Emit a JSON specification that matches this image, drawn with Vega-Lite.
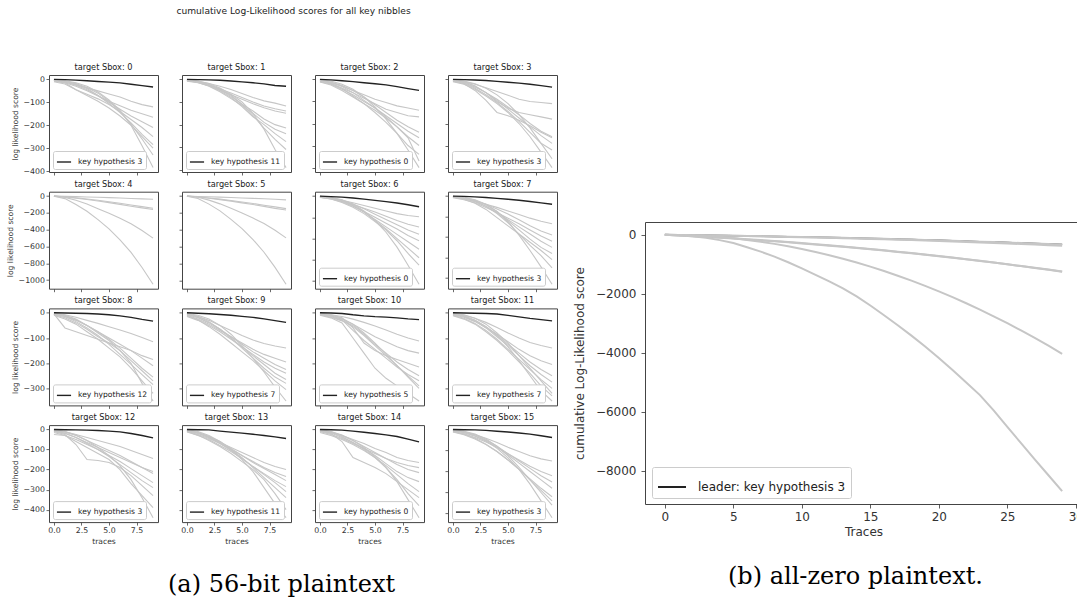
{
"$schema":"https://vega.github.io/schema/vega-lite/v6.json",
"padding":{"left":5,"top":7,"right":0,"bottom":0},
"config":{
"font":"DejaVu Sans",
"view":{"stroke":"#444444","strokeWidth":1},
"axis":{"labelFont":"DejaVu Sans","labelFontSize":7.8,"labelColor":"#333333","tickColor":"#444444","tickSize":3,"tickWidth":0.8,"labelPadding":1.5,"domain":false,"grid":false,"labelFlush":false,"labelOverlap":false,"titleFont":"DejaVu Sans","titleFontSize":7.6,"titleFontWeight":"normal","titleColor":"#333333","titlePadding":3},
"axisY":{"titlePadding":4},
"title":{"font":"DejaVu Sans","fontSize":8.2,"fontWeight":"normal","color":"#222222","offset":3},
"legend":{"orient":"bottom-left","offset":3.5,"padding":3,"fillColor":"white","strokeColor":"#cccccc","cornerRadius":2,"symbolType":"stroke","symbolSize":200,"symbolStrokeWidth":1.4,"labelFont":"DejaVu Sans","labelFontSize":7.6,"labelColor":"#222222","labelOffset":6}
},
"datasets":{
"p0":[{"h":3,"t":0,"v":0},{"h":3,"t":1,"v":-1},{"h":3,"t":2,"v":-3},{"h":3,"t":3,"v":-6},{"h":3,"t":4,"v":-9},{"h":3,"t":5,"v":-12},{"h":3,"t":6,"v":-15},{"h":3,"t":7,"v":-21},{"h":3,"t":8,"v":-27},{"h":3,"t":9,"v":-33},
{"h":0,"t":0,"v":-5},{"h":0,"t":1,"v":-12},{"h":0,"t":2,"v":-24},{"h":0,"t":3,"v":-37},{"h":0,"t":4,"v":-50},{"h":0,"t":5,"v":-64},{"h":0,"t":6,"v":-77},{"h":0,"t":7,"v":-95},{"h":0,"t":8,"v":-110},{"h":0,"t":9,"v":-120},
{"h":1,"t":0,"v":-8},{"h":1,"t":1,"v":-15},{"h":1,"t":2,"v":-30},{"h":1,"t":3,"v":-50},{"h":1,"t":4,"v":-72},{"h":1,"t":5,"v":-95},{"h":1,"t":6,"v":-115},{"h":1,"t":7,"v":-135},{"h":1,"t":8,"v":-150},{"h":1,"t":9,"v":-165},
{"h":2,"t":0,"v":-3},{"h":2,"t":1,"v":-10},{"h":2,"t":2,"v":-25},{"h":2,"t":3,"v":-45},{"h":2,"t":4,"v":-70},{"h":2,"t":5,"v":-100},{"h":2,"t":6,"v":-130},{"h":2,"t":7,"v":-160},{"h":2,"t":8,"v":-185},{"h":2,"t":9,"v":-210},
{"h":4,"t":0,"v":-10},{"h":4,"t":1,"v":-20},{"h":4,"t":2,"v":-45},{"h":4,"t":3,"v":-65},{"h":4,"t":4,"v":-85},{"h":4,"t":5,"v":-110},{"h":4,"t":6,"v":-140},{"h":4,"t":7,"v":-175},{"h":4,"t":8,"v":-210},{"h":4,"t":9,"v":-250},
{"h":5,"t":0,"v":-2},{"h":5,"t":1,"v":-8},{"h":5,"t":2,"v":-20},{"h":5,"t":3,"v":-40},{"h":5,"t":4,"v":-70},{"h":5,"t":5,"v":-105},{"h":5,"t":6,"v":-145},{"h":5,"t":7,"v":-190},{"h":5,"t":8,"v":-240},{"h":5,"t":9,"v":-285},
{"h":6,"t":0,"v":-5},{"h":6,"t":1,"v":-15},{"h":6,"t":2,"v":-45},{"h":6,"t":3,"v":-70},{"h":6,"t":4,"v":-95},{"h":6,"t":5,"v":-125},{"h":6,"t":6,"v":-160},{"h":6,"t":7,"v":-200},{"h":6,"t":8,"v":-250},{"h":6,"t":9,"v":-300},
{"h":7,"t":0,"v":-3},{"h":7,"t":1,"v":-8},{"h":7,"t":2,"v":-18},{"h":7,"t":3,"v":-35},{"h":7,"t":4,"v":-60},{"h":7,"t":5,"v":-95},{"h":7,"t":6,"v":-140},{"h":7,"t":7,"v":-195},{"h":7,"t":8,"v":-260},{"h":7,"t":9,"v":-330},
{"h":8,"t":0,"v":-2},{"h":8,"t":1,"v":-6},{"h":8,"t":2,"v":-15},{"h":8,"t":3,"v":-30},{"h":8,"t":4,"v":-55},{"h":8,"t":5,"v":-90},{"h":8,"t":6,"v":-135},{"h":8,"t":7,"v":-200},{"h":8,"t":8,"v":-290},{"h":8,"t":9,"v":-385}],
"p1":[{"h":11,"t":0,"v":0},{"h":11,"t":1,"v":-1},{"h":11,"t":2,"v":-2},{"h":11,"t":3,"v":-4},{"h":11,"t":4,"v":-7},{"h":11,"t":5,"v":-11},{"h":11,"t":6,"v":-15},{"h":11,"t":7,"v":-20},{"h":11,"t":8,"v":-27},{"h":11,"t":9,"v":-30},
{"h":0,"t":0,"v":-3},{"h":0,"t":1,"v":-8},{"h":0,"t":2,"v":-18},{"h":0,"t":3,"v":-30},{"h":0,"t":4,"v":-45},{"h":0,"t":5,"v":-62},{"h":0,"t":6,"v":-80},{"h":0,"t":7,"v":-95},{"h":0,"t":8,"v":-105},{"h":0,"t":9,"v":-118},
{"h":1,"t":0,"v":-5},{"h":1,"t":1,"v":-12},{"h":1,"t":2,"v":-25},{"h":1,"t":3,"v":-42},{"h":1,"t":4,"v":-60},{"h":1,"t":5,"v":-80},{"h":1,"t":6,"v":-100},{"h":1,"t":7,"v":-118},{"h":1,"t":8,"v":-130},{"h":1,"t":9,"v":-140},
{"h":2,"t":0,"v":-8},{"h":2,"t":1,"v":-15},{"h":2,"t":2,"v":-28},{"h":2,"t":3,"v":-48},{"h":2,"t":4,"v":-68},{"h":2,"t":5,"v":-88},{"h":2,"t":6,"v":-108},{"h":2,"t":7,"v":-125},{"h":2,"t":8,"v":-140},{"h":2,"t":9,"v":-150},
{"h":3,"t":0,"v":-2},{"h":3,"t":1,"v":-10},{"h":3,"t":2,"v":-25},{"h":3,"t":3,"v":-45},{"h":3,"t":4,"v":-75},{"h":3,"t":5,"v":-110},{"h":3,"t":6,"v":-140},{"h":3,"t":7,"v":-175},{"h":3,"t":8,"v":-200},{"h":3,"t":9,"v":-215},
{"h":4,"t":0,"v":-6},{"h":4,"t":1,"v":-14},{"h":4,"t":2,"v":-30},{"h":4,"t":3,"v":-55},{"h":4,"t":4,"v":-85},{"h":4,"t":5,"v":-115},{"h":4,"t":6,"v":-150},{"h":4,"t":7,"v":-190},{"h":4,"t":8,"v":-220},{"h":4,"t":9,"v":-240},
{"h":5,"t":0,"v":-4},{"h":5,"t":1,"v":-12},{"h":5,"t":2,"v":-28},{"h":5,"t":3,"v":-50},{"h":5,"t":4,"v":-80},{"h":5,"t":5,"v":-120},{"h":5,"t":6,"v":-165},{"h":5,"t":7,"v":-200},{"h":5,"t":8,"v":-240},{"h":5,"t":9,"v":-275},
{"h":6,"t":0,"v":-3},{"h":6,"t":1,"v":-9},{"h":6,"t":2,"v":-22},{"h":6,"t":3,"v":-42},{"h":6,"t":4,"v":-70},{"h":6,"t":5,"v":-110},{"h":6,"t":6,"v":-160},{"h":6,"t":7,"v":-215},{"h":6,"t":8,"v":-265},{"h":6,"t":9,"v":-310},
{"h":7,"t":0,"v":-2},{"h":7,"t":1,"v":-7},{"h":7,"t":2,"v":-18},{"h":7,"t":3,"v":-38},{"h":7,"t":4,"v":-65},{"h":7,"t":5,"v":-100},{"h":7,"t":6,"v":-150},{"h":7,"t":7,"v":-220},{"h":7,"t":8,"v":-310},{"h":7,"t":9,"v":-390}],
"p2":[{"h":0,"t":0,"v":0},{"h":0,"t":1,"v":-2},{"h":0,"t":2,"v":-6},{"h":0,"t":3,"v":-10},{"h":0,"t":4,"v":-15},{"h":0,"t":5,"v":-20},{"h":0,"t":6,"v":-25},{"h":0,"t":7,"v":-33},{"h":0,"t":8,"v":-42},{"h":0,"t":9,"v":-50},
{"h":1,"t":0,"v":-5},{"h":1,"t":1,"v":-15},{"h":1,"t":2,"v":-30},{"h":1,"t":3,"v":-50},{"h":1,"t":4,"v":-70},{"h":1,"t":5,"v":-90},{"h":1,"t":6,"v":-105},{"h":1,"t":7,"v":-120},{"h":1,"t":8,"v":-130},{"h":1,"t":9,"v":-140},
{"h":2,"t":0,"v":-8},{"h":2,"t":1,"v":-20},{"h":2,"t":2,"v":-40},{"h":2,"t":3,"v":-60},{"h":2,"t":4,"v":-85},{"h":2,"t":5,"v":-110},{"h":2,"t":6,"v":-135},{"h":2,"t":7,"v":-150},{"h":2,"t":8,"v":-165},{"h":2,"t":9,"v":-170},
{"h":3,"t":0,"v":-3},{"h":3,"t":1,"v":-12},{"h":3,"t":2,"v":-28},{"h":3,"t":3,"v":-50},{"h":3,"t":4,"v":-80},{"h":3,"t":5,"v":-115},{"h":3,"t":6,"v":-150},{"h":3,"t":7,"v":-185},{"h":3,"t":8,"v":-215},{"h":3,"t":9,"v":-240},
{"h":4,"t":0,"v":-10},{"h":4,"t":1,"v":-22},{"h":4,"t":2,"v":-45},{"h":4,"t":3,"v":-70},{"h":4,"t":4,"v":-100},{"h":4,"t":5,"v":-130},{"h":4,"t":6,"v":-165},{"h":4,"t":7,"v":-200},{"h":4,"t":8,"v":-235},{"h":4,"t":9,"v":-265},
{"h":5,"t":0,"v":-4},{"h":5,"t":1,"v":-14},{"h":5,"t":2,"v":-32},{"h":5,"t":3,"v":-60},{"h":5,"t":4,"v":-95},{"h":5,"t":5,"v":-130},{"h":5,"t":6,"v":-170},{"h":5,"t":7,"v":-215},{"h":5,"t":8,"v":-260},{"h":5,"t":9,"v":-300},
{"h":6,"t":0,"v":-6},{"h":6,"t":1,"v":-18},{"h":6,"t":2,"v":-40},{"h":6,"t":3,"v":-75},{"h":6,"t":4,"v":-110},{"h":6,"t":5,"v":-150},{"h":6,"t":6,"v":-195},{"h":6,"t":7,"v":-245},{"h":6,"t":8,"v":-300},{"h":6,"t":9,"v":-340},
{"h":7,"t":0,"v":-2},{"h":7,"t":1,"v":-8},{"h":7,"t":2,"v":-22},{"h":7,"t":3,"v":-45},{"h":7,"t":4,"v":-80},{"h":7,"t":5,"v":-125},{"h":7,"t":6,"v":-180},{"h":7,"t":7,"v":-245},{"h":7,"t":8,"v":-320},{"h":7,"t":9,"v":-400},
{"h":8,"t":0,"v":-12},{"h":8,"t":1,"v":-25},{"h":8,"t":2,"v":-50},{"h":8,"t":3,"v":-80},{"h":8,"t":4,"v":-110},{"h":8,"t":5,"v":-140},{"h":8,"t":6,"v":-175},{"h":8,"t":7,"v":-215},{"h":8,"t":8,"v":-265},{"h":8,"t":9,"v":-370}],
"p3":[{"h":3,"t":0,"v":0},{"h":3,"t":1,"v":-1},{"h":3,"t":2,"v":-3},{"h":3,"t":3,"v":-5},{"h":3,"t":4,"v":-9},{"h":3,"t":5,"v":-13},{"h":3,"t":6,"v":-17},{"h":3,"t":7,"v":-22},{"h":3,"t":8,"v":-28},{"h":3,"t":9,"v":-35},
{"h":0,"t":0,"v":-3},{"h":0,"t":1,"v":-10},{"h":0,"t":2,"v":-22},{"h":0,"t":3,"v":-38},{"h":0,"t":4,"v":-55},{"h":0,"t":5,"v":-72},{"h":0,"t":6,"v":-90},{"h":0,"t":7,"v":-100},{"h":0,"t":8,"v":-105},{"h":0,"t":9,"v":-110},
{"h":1,"t":0,"v":-5},{"h":1,"t":1,"v":-12},{"h":1,"t":2,"v":-30},{"h":1,"t":3,"v":-60},{"h":1,"t":4,"v":-100},{"h":1,"t":5,"v":-130},{"h":1,"t":6,"v":-150},{"h":1,"t":7,"v":-160},{"h":1,"t":8,"v":-170},{"h":1,"t":9,"v":-180},
{"h":2,"t":0,"v":-8},{"h":2,"t":1,"v":-20},{"h":2,"t":2,"v":-50},{"h":2,"t":3,"v":-95},{"h":2,"t":4,"v":-150},{"h":2,"t":5,"v":-165},{"h":2,"t":6,"v":-185},{"h":2,"t":7,"v":-210},{"h":2,"t":8,"v":-240},{"h":2,"t":9,"v":-265},
{"h":4,"t":0,"v":-4},{"h":4,"t":1,"v":-15},{"h":4,"t":2,"v":-35},{"h":4,"t":3,"v":-60},{"h":4,"t":4,"v":-90},{"h":4,"t":5,"v":-125},{"h":4,"t":6,"v":-160},{"h":4,"t":7,"v":-200},{"h":4,"t":8,"v":-235},{"h":4,"t":9,"v":-260},
{"h":5,"t":0,"v":-2},{"h":5,"t":1,"v":-10},{"h":5,"t":2,"v":-30},{"h":5,"t":3,"v":-60},{"h":5,"t":4,"v":-95},{"h":5,"t":5,"v":-135},{"h":5,"t":6,"v":-175},{"h":5,"t":7,"v":-215},{"h":5,"t":8,"v":-255},{"h":5,"t":9,"v":-290},
{"h":6,"t":0,"v":-6},{"h":6,"t":1,"v":-18},{"h":6,"t":2,"v":-40},{"h":6,"t":3,"v":-70},{"h":6,"t":4,"v":-105},{"h":6,"t":5,"v":-145},{"h":6,"t":6,"v":-190},{"h":6,"t":7,"v":-240},{"h":6,"t":8,"v":-290},{"h":6,"t":9,"v":-320},
{"h":7,"t":0,"v":-3},{"h":7,"t":1,"v":-8},{"h":7,"t":2,"v":-20},{"h":7,"t":3,"v":-40},{"h":7,"t":4,"v":-70},{"h":7,"t":5,"v":-110},{"h":7,"t":6,"v":-160},{"h":7,"t":7,"v":-220},{"h":7,"t":8,"v":-290},{"h":7,"t":9,"v":-360},
{"h":8,"t":0,"v":-10},{"h":8,"t":1,"v":-22},{"h":8,"t":2,"v":-45},{"h":8,"t":3,"v":-75},{"h":8,"t":4,"v":-110},{"h":8,"t":5,"v":-150},{"h":8,"t":6,"v":-200},{"h":8,"t":7,"v":-260},{"h":8,"t":8,"v":-330},{"h":8,"t":9,"v":-400}],
"p4":[{"h":0,"t":0,"v":0},{"h":0,"t":1,"v":-3},{"h":0,"t":2,"v":-6},{"h":0,"t":3,"v":-10},{"h":0,"t":4,"v":-14},{"h":0,"t":5,"v":-18},{"h":0,"t":6,"v":-23},{"h":0,"t":7,"v":-28},{"h":0,"t":8,"v":-33},{"h":0,"t":9,"v":-38},
{"h":1,"t":0,"v":0},{"h":1,"t":1,"v":-8},{"h":1,"t":2,"v":-20},{"h":1,"t":3,"v":-35},{"h":1,"t":4,"v":-50},{"h":1,"t":5,"v":-68},{"h":1,"t":6,"v":-85},{"h":1,"t":7,"v":-105},{"h":1,"t":8,"v":-125},{"h":1,"t":9,"v":-145},
{"h":2,"t":0,"v":0},{"h":2,"t":1,"v":-10},{"h":2,"t":2,"v":-25},{"h":2,"t":3,"v":-40},{"h":2,"t":4,"v":-58},{"h":2,"t":5,"v":-78},{"h":2,"t":6,"v":-98},{"h":2,"t":7,"v":-120},{"h":2,"t":8,"v":-140},{"h":2,"t":9,"v":-160},
{"h":3,"t":0,"v":0},{"h":3,"t":1,"v":-15},{"h":3,"t":2,"v":-50},{"h":3,"t":3,"v":-95},{"h":3,"t":4,"v":-150},{"h":3,"t":5,"v":-205},{"h":3,"t":6,"v":-265},{"h":3,"t":7,"v":-330},{"h":3,"t":8,"v":-410},{"h":3,"t":9,"v":-500},
{"h":4,"t":0,"v":0},{"h":4,"t":1,"v":-30},{"h":4,"t":2,"v":-100},{"h":4,"t":3,"v":-180},{"h":4,"t":4,"v":-280},{"h":4,"t":5,"v":-390},{"h":4,"t":6,"v":-520},{"h":4,"t":7,"v":-670},{"h":4,"t":8,"v":-850},{"h":4,"t":9,"v":-1050}],
"p5":[{"h":0,"t":0,"v":0},{"h":0,"t":1,"v":-4},{"h":0,"t":2,"v":-8},{"h":0,"t":3,"v":-12},{"h":0,"t":4,"v":-17},{"h":0,"t":5,"v":-22},{"h":0,"t":6,"v":-27},{"h":0,"t":7,"v":-32},{"h":0,"t":8,"v":-38},{"h":0,"t":9,"v":-45},
{"h":1,"t":0,"v":0},{"h":1,"t":1,"v":-9},{"h":1,"t":2,"v":-22},{"h":1,"t":3,"v":-36},{"h":1,"t":4,"v":-52},{"h":1,"t":5,"v":-70},{"h":1,"t":6,"v":-88},{"h":1,"t":7,"v":-108},{"h":1,"t":8,"v":-128},{"h":1,"t":9,"v":-148},
{"h":2,"t":0,"v":0},{"h":2,"t":1,"v":-11},{"h":2,"t":2,"v":-26},{"h":2,"t":3,"v":-42},{"h":2,"t":4,"v":-60},{"h":2,"t":5,"v":-80},{"h":2,"t":6,"v":-100},{"h":2,"t":7,"v":-122},{"h":2,"t":8,"v":-145},{"h":2,"t":9,"v":-165},
{"h":3,"t":0,"v":0},{"h":3,"t":1,"v":-14},{"h":3,"t":2,"v":-48},{"h":3,"t":3,"v":-92},{"h":3,"t":4,"v":-145},{"h":3,"t":5,"v":-200},{"h":3,"t":6,"v":-260},{"h":3,"t":7,"v":-325},{"h":3,"t":8,"v":-405},{"h":3,"t":9,"v":-495},
{"h":4,"t":0,"v":0},{"h":4,"t":1,"v":-28},{"h":4,"t":2,"v":-95},{"h":4,"t":3,"v":-175},{"h":4,"t":4,"v":-275},{"h":4,"t":5,"v":-385},{"h":4,"t":6,"v":-515},{"h":4,"t":7,"v":-665},{"h":4,"t":8,"v":-845},{"h":4,"t":9,"v":-1045}],
"p6":[{"h":0,"t":0,"v":0},{"h":0,"t":1,"v":-5},{"h":0,"t":2,"v":-10},{"h":0,"t":3,"v":-18},{"h":0,"t":4,"v":-28},{"h":0,"t":5,"v":-40},{"h":0,"t":6,"v":-52},{"h":0,"t":7,"v":-65},{"h":0,"t":8,"v":-82},{"h":0,"t":9,"v":-100},
{"h":1,"t":0,"v":-8},{"h":1,"t":1,"v":-20},{"h":1,"t":2,"v":-40},{"h":1,"t":3,"v":-62},{"h":1,"t":4,"v":-88},{"h":1,"t":5,"v":-115},{"h":1,"t":6,"v":-140},{"h":1,"t":7,"v":-165},{"h":1,"t":8,"v":-182},{"h":1,"t":9,"v":-195},
{"h":2,"t":0,"v":-12},{"h":2,"t":1,"v":-28},{"h":2,"t":2,"v":-50},{"h":2,"t":3,"v":-80},{"h":2,"t":4,"v":-115},{"h":2,"t":5,"v":-150},{"h":2,"t":6,"v":-190},{"h":2,"t":7,"v":-230},{"h":2,"t":8,"v":-265},{"h":2,"t":9,"v":-290},
{"h":3,"t":0,"v":-5},{"h":3,"t":1,"v":-18},{"h":3,"t":2,"v":-40},{"h":3,"t":3,"v":-75},{"h":3,"t":4,"v":-120},{"h":3,"t":5,"v":-170},{"h":3,"t":6,"v":-220},{"h":3,"t":7,"v":-270},{"h":3,"t":8,"v":-320},{"h":3,"t":9,"v":-360},
{"h":4,"t":0,"v":-10},{"h":4,"t":1,"v":-25},{"h":4,"t":2,"v":-55},{"h":4,"t":3,"v":-95},{"h":4,"t":4,"v":-145},{"h":4,"t":5,"v":-200},{"h":4,"t":6,"v":-255},{"h":4,"t":7,"v":-310},{"h":4,"t":8,"v":-370},{"h":4,"t":9,"v":-420},
{"h":5,"t":0,"v":-6},{"h":5,"t":1,"v":-18},{"h":5,"t":2,"v":-45},{"h":5,"t":3,"v":-90},{"h":5,"t":4,"v":-150},{"h":5,"t":5,"v":-220},{"h":5,"t":6,"v":-290},{"h":5,"t":7,"v":-360},{"h":5,"t":8,"v":-430},{"h":5,"t":9,"v":-500},
{"h":6,"t":0,"v":-4},{"h":6,"t":1,"v":-15},{"h":6,"t":2,"v":-40},{"h":6,"t":3,"v":-85},{"h":6,"t":4,"v":-150},{"h":6,"t":5,"v":-230},{"h":6,"t":6,"v":-310},{"h":6,"t":7,"v":-400},{"h":6,"t":8,"v":-490},{"h":6,"t":9,"v":-580},
{"h":7,"t":0,"v":-10},{"h":7,"t":1,"v":-28},{"h":7,"t":2,"v":-60},{"h":7,"t":3,"v":-105},{"h":7,"t":4,"v":-165},{"h":7,"t":5,"v":-240},{"h":7,"t":6,"v":-320},{"h":7,"t":7,"v":-420},{"h":7,"t":8,"v":-540},{"h":7,"t":9,"v":-650},
{"h":8,"t":0,"v":-3},{"h":8,"t":1,"v":-12},{"h":8,"t":2,"v":-35},{"h":8,"t":3,"v":-75},{"h":8,"t":4,"v":-140},{"h":8,"t":5,"v":-230},{"h":8,"t":6,"v":-340},{"h":8,"t":7,"v":-480},{"h":8,"t":8,"v":-650},{"h":8,"t":9,"v":-830}],
"p7":[{"h":3,"t":0,"v":0},{"h":3,"t":1,"v":-3},{"h":3,"t":2,"v":-8},{"h":3,"t":3,"v":-14},{"h":3,"t":4,"v":-22},{"h":3,"t":5,"v":-30},{"h":3,"t":6,"v":-40},{"h":3,"t":7,"v":-52},{"h":3,"t":8,"v":-66},{"h":3,"t":9,"v":-80},
{"h":0,"t":0,"v":-10},{"h":0,"t":1,"v":-25},{"h":0,"t":2,"v":-50},{"h":0,"t":3,"v":-80},{"h":0,"t":4,"v":-110},{"h":0,"t":5,"v":-145},{"h":0,"t":6,"v":-180},{"h":0,"t":7,"v":-215},{"h":0,"t":8,"v":-245},{"h":0,"t":9,"v":-270},
{"h":1,"t":0,"v":-5},{"h":1,"t":1,"v":-20},{"h":1,"t":2,"v":-45},{"h":1,"t":3,"v":-80},{"h":1,"t":4,"v":-125},{"h":1,"t":5,"v":-175},{"h":1,"t":6,"v":-230},{"h":1,"t":7,"v":-290},{"h":1,"t":8,"v":-340},{"h":1,"t":9,"v":-380},
{"h":2,"t":0,"v":-15},{"h":2,"t":1,"v":-35},{"h":2,"t":2,"v":-65},{"h":2,"t":3,"v":-110},{"h":2,"t":4,"v":-160},{"h":2,"t":5,"v":-215},{"h":2,"t":6,"v":-270},{"h":2,"t":7,"v":-330},{"h":2,"t":8,"v":-390},{"h":2,"t":9,"v":-440},
{"h":4,"t":0,"v":-8},{"h":4,"t":1,"v":-25},{"h":4,"t":2,"v":-55},{"h":4,"t":3,"v":-100},{"h":4,"t":4,"v":-160},{"h":4,"t":5,"v":-230},{"h":4,"t":6,"v":-300},{"h":4,"t":7,"v":-370},{"h":4,"t":8,"v":-440},{"h":4,"t":9,"v":-500},
{"h":5,"t":0,"v":-4},{"h":5,"t":1,"v":-15},{"h":5,"t":2,"v":-40},{"h":5,"t":3,"v":-85},{"h":5,"t":4,"v":-150},{"h":5,"t":5,"v":-240},{"h":5,"t":6,"v":-330},{"h":5,"t":7,"v":-420},{"h":5,"t":8,"v":-500},{"h":5,"t":9,"v":-560},
{"h":6,"t":0,"v":-12},{"h":6,"t":1,"v":-30},{"h":6,"t":2,"v":-70},{"h":6,"t":3,"v":-130},{"h":6,"t":4,"v":-210},{"h":6,"t":5,"v":-290},{"h":6,"t":6,"v":-370},{"h":6,"t":7,"v":-450},{"h":6,"t":8,"v":-530},{"h":6,"t":9,"v":-620},
{"h":7,"t":0,"v":-6},{"h":7,"t":1,"v":-20},{"h":7,"t":2,"v":-50},{"h":7,"t":3,"v":-100},{"h":7,"t":4,"v":-170},{"h":7,"t":5,"v":-260},{"h":7,"t":6,"v":-370},{"h":7,"t":7,"v":-480},{"h":7,"t":8,"v":-580},{"h":7,"t":9,"v":-700},
{"h":8,"t":0,"v":-3},{"h":8,"t":1,"v":-12},{"h":8,"t":2,"v":-35},{"h":8,"t":3,"v":-80},{"h":8,"t":4,"v":-150},{"h":8,"t":5,"v":-250},{"h":8,"t":6,"v":-380},{"h":8,"t":7,"v":-530},{"h":8,"t":8,"v":-690},{"h":8,"t":9,"v":-860}],
"p8":[{"h":12,"t":0,"v":0},{"h":12,"t":1,"v":-1},{"h":12,"t":2,"v":-2},{"h":12,"t":3,"v":-3},{"h":12,"t":4,"v":-5},{"h":12,"t":5,"v":-8},{"h":12,"t":6,"v":-12},{"h":12,"t":7,"v":-18},{"h":12,"t":8,"v":-26},{"h":12,"t":9,"v":-33},
{"h":0,"t":0,"v":-2},{"h":0,"t":1,"v":-8},{"h":0,"t":2,"v":-18},{"h":0,"t":3,"v":-30},{"h":0,"t":4,"v":-42},{"h":0,"t":5,"v":-55},{"h":0,"t":6,"v":-68},{"h":0,"t":7,"v":-82},{"h":0,"t":8,"v":-98},{"h":0,"t":9,"v":-115},
{"h":1,"t":0,"v":-4},{"h":1,"t":1,"v":-60},{"h":1,"t":2,"v":-75},{"h":1,"t":3,"v":-90},{"h":1,"t":4,"v":-105},{"h":1,"t":5,"v":-120},{"h":1,"t":6,"v":-135},{"h":1,"t":7,"v":-150},{"h":1,"t":8,"v":-170},{"h":1,"t":9,"v":-185},
{"h":2,"t":0,"v":-6},{"h":2,"t":1,"v":-15},{"h":2,"t":2,"v":-30},{"h":2,"t":3,"v":-50},{"h":2,"t":4,"v":-75},{"h":2,"t":5,"v":-100},{"h":2,"t":6,"v":-125},{"h":2,"t":7,"v":-150},{"h":2,"t":8,"v":-180},{"h":2,"t":9,"v":-210},
{"h":3,"t":0,"v":-3},{"h":3,"t":1,"v":-12},{"h":3,"t":2,"v":-28},{"h":3,"t":3,"v":-50},{"h":3,"t":4,"v":-75},{"h":3,"t":5,"v":-105},{"h":3,"t":6,"v":-140},{"h":3,"t":7,"v":-180},{"h":3,"t":8,"v":-220},{"h":3,"t":9,"v":-255},
{"h":4,"t":0,"v":-8},{"h":4,"t":1,"v":-20},{"h":4,"t":2,"v":-40},{"h":4,"t":3,"v":-65},{"h":4,"t":4,"v":-95},{"h":4,"t":5,"v":-120},{"h":4,"t":6,"v":-150},{"h":4,"t":7,"v":-190},{"h":4,"t":8,"v":-230},{"h":4,"t":9,"v":-270},
{"h":5,"t":0,"v":-5},{"h":5,"t":1,"v":-15},{"h":5,"t":2,"v":-35},{"h":5,"t":3,"v":-60},{"h":5,"t":4,"v":-90},{"h":5,"t":5,"v":-125},{"h":5,"t":6,"v":-165},{"h":5,"t":7,"v":-205},{"h":5,"t":8,"v":-245},{"h":5,"t":9,"v":-285},
{"h":6,"t":0,"v":-10},{"h":6,"t":1,"v":-25},{"h":6,"t":2,"v":-45},{"h":6,"t":3,"v":-75},{"h":6,"t":4,"v":-105},{"h":6,"t":5,"v":-140},{"h":6,"t":6,"v":-175},{"h":6,"t":7,"v":-220},{"h":6,"t":8,"v":-270},{"h":6,"t":9,"v":-320},
{"h":7,"t":0,"v":-2},{"h":7,"t":1,"v":-10},{"h":7,"t":2,"v":-25},{"h":7,"t":3,"v":-50},{"h":7,"t":4,"v":-80},{"h":7,"t":5,"v":-110},{"h":7,"t":6,"v":-150},{"h":7,"t":7,"v":-200},{"h":7,"t":8,"v":-280},{"h":7,"t":9,"v":-350}],
"p9":[{"h":7,"t":0,"v":0},{"h":7,"t":1,"v":-2},{"h":7,"t":2,"v":-4},{"h":7,"t":3,"v":-7},{"h":7,"t":4,"v":-10},{"h":7,"t":5,"v":-14},{"h":7,"t":6,"v":-18},{"h":7,"t":7,"v":-24},{"h":7,"t":8,"v":-31},{"h":7,"t":9,"v":-38},
{"h":0,"t":0,"v":-5},{"h":0,"t":1,"v":-15},{"h":0,"t":2,"v":-30},{"h":0,"t":3,"v":-50},{"h":0,"t":4,"v":-70},{"h":0,"t":5,"v":-90},{"h":0,"t":6,"v":-108},{"h":0,"t":7,"v":-122},{"h":0,"t":8,"v":-132},{"h":0,"t":9,"v":-140},
{"h":1,"t":0,"v":-10},{"h":1,"t":1,"v":-25},{"h":1,"t":2,"v":-45},{"h":1,"t":3,"v":-70},{"h":1,"t":4,"v":-95},{"h":1,"t":5,"v":-120},{"h":1,"t":6,"v":-145},{"h":1,"t":7,"v":-165},{"h":1,"t":8,"v":-180},{"h":1,"t":9,"v":-195},
{"h":2,"t":0,"v":-8},{"h":2,"t":1,"v":-20},{"h":2,"t":2,"v":-40},{"h":2,"t":3,"v":-65},{"h":2,"t":4,"v":-95},{"h":2,"t":5,"v":-125},{"h":2,"t":6,"v":-155},{"h":2,"t":7,"v":-180},{"h":2,"t":8,"v":-205},{"h":2,"t":9,"v":-225},
{"h":3,"t":0,"v":-15},{"h":3,"t":1,"v":-30},{"h":3,"t":2,"v":-50},{"h":3,"t":3,"v":-75},{"h":3,"t":4,"v":-105},{"h":3,"t":5,"v":-135},{"h":3,"t":6,"v":-165},{"h":3,"t":7,"v":-195},{"h":3,"t":8,"v":-220},{"h":3,"t":9,"v":-240},
{"h":4,"t":0,"v":-6},{"h":4,"t":1,"v":-18},{"h":4,"t":2,"v":-38},{"h":4,"t":3,"v":-65},{"h":4,"t":4,"v":-100},{"h":4,"t":5,"v":-135},{"h":4,"t":6,"v":-170},{"h":4,"t":7,"v":-205},{"h":4,"t":8,"v":-240},{"h":4,"t":9,"v":-265},
{"h":5,"t":0,"v":-4},{"h":5,"t":1,"v":-14},{"h":5,"t":2,"v":-35},{"h":5,"t":3,"v":-65},{"h":5,"t":4,"v":-100},{"h":5,"t":5,"v":-140},{"h":5,"t":6,"v":-180},{"h":5,"t":7,"v":-220},{"h":5,"t":8,"v":-255},{"h":5,"t":9,"v":-280},
{"h":6,"t":0,"v":-12},{"h":6,"t":1,"v":-28},{"h":6,"t":2,"v":-55},{"h":6,"t":3,"v":-85},{"h":6,"t":4,"v":-120},{"h":6,"t":5,"v":-155},{"h":6,"t":6,"v":-190},{"h":6,"t":7,"v":-230},{"h":6,"t":8,"v":-270},{"h":6,"t":9,"v":-305},
{"h":8,"t":0,"v":-3},{"h":8,"t":1,"v":-10},{"h":8,"t":2,"v":-25},{"h":8,"t":3,"v":-50},{"h":8,"t":4,"v":-85},{"h":8,"t":5,"v":-130},{"h":8,"t":6,"v":-180},{"h":8,"t":7,"v":-235},{"h":8,"t":8,"v":-295},{"h":8,"t":9,"v":-350}],
"p10":[{"h":5,"t":0,"v":0},{"h":5,"t":1,"v":-1},{"h":5,"t":2,"v":-3},{"h":5,"t":3,"v":-8},{"h":5,"t":4,"v":-12},{"h":5,"t":5,"v":-15},{"h":5,"t":6,"v":-17},{"h":5,"t":7,"v":-20},{"h":5,"t":8,"v":-24},{"h":5,"t":9,"v":-27},
{"h":0,"t":0,"v":-3},{"h":0,"t":1,"v":-8},{"h":0,"t":2,"v":-15},{"h":0,"t":3,"v":-25},{"h":0,"t":4,"v":-38},{"h":0,"t":5,"v":-52},{"h":0,"t":6,"v":-68},{"h":0,"t":7,"v":-85},{"h":0,"t":8,"v":-100},{"h":0,"t":9,"v":-112},
{"h":1,"t":0,"v":-5},{"h":1,"t":1,"v":-12},{"h":1,"t":2,"v":-25},{"h":1,"t":3,"v":-45},{"h":1,"t":4,"v":-70},{"h":1,"t":5,"v":-95},{"h":1,"t":6,"v":-115},{"h":1,"t":7,"v":-135},{"h":1,"t":8,"v":-150},{"h":1,"t":9,"v":-160},
{"h":2,"t":0,"v":-2},{"h":2,"t":1,"v":-8},{"h":2,"t":2,"v":-20},{"h":2,"t":3,"v":-60},{"h":2,"t":4,"v":-120},{"h":2,"t":5,"v":-150},{"h":2,"t":6,"v":-170},{"h":2,"t":7,"v":-185},{"h":2,"t":8,"v":-200},{"h":2,"t":9,"v":-215},
{"h":3,"t":0,"v":-8},{"h":3,"t":1,"v":-18},{"h":3,"t":2,"v":-32},{"h":3,"t":3,"v":-50},{"h":3,"t":4,"v":-85},{"h":3,"t":5,"v":-125},{"h":3,"t":6,"v":-160},{"h":3,"t":7,"v":-195},{"h":3,"t":8,"v":-225},{"h":3,"t":9,"v":-250},
{"h":4,"t":0,"v":-4},{"h":4,"t":1,"v":-12},{"h":4,"t":2,"v":-28},{"h":4,"t":3,"v":-70},{"h":4,"t":4,"v":-110},{"h":4,"t":5,"v":-145},{"h":4,"t":6,"v":-180},{"h":4,"t":7,"v":-215},{"h":4,"t":8,"v":-245},{"h":4,"t":9,"v":-270},
{"h":6,"t":0,"v":-6},{"h":6,"t":1,"v":-15},{"h":6,"t":2,"v":-30},{"h":6,"t":3,"v":-55},{"h":6,"t":4,"v":-90},{"h":6,"t":5,"v":-130},{"h":6,"t":6,"v":-170},{"h":6,"t":7,"v":-210},{"h":6,"t":8,"v":-250},{"h":6,"t":9,"v":-290},
{"h":7,"t":0,"v":-10},{"h":7,"t":1,"v":-20},{"h":7,"t":2,"v":-40},{"h":7,"t":3,"v":-100},{"h":7,"t":4,"v":-160},{"h":7,"t":5,"v":-220},{"h":7,"t":6,"v":-260},{"h":7,"t":7,"v":-290},{"h":7,"t":8,"v":-320},{"h":7,"t":9,"v":-350},
{"h":8,"t":0,"v":-3},{"h":8,"t":1,"v":-10},{"h":8,"t":2,"v":-22},{"h":8,"t":3,"v":-45},{"h":8,"t":4,"v":-80},{"h":8,"t":5,"v":-120},{"h":8,"t":6,"v":-165},{"h":8,"t":7,"v":-210},{"h":8,"t":8,"v":-255},{"h":8,"t":9,"v":-300}],
"p11":[{"h":7,"t":0,"v":0},{"h":7,"t":1,"v":-1},{"h":7,"t":2,"v":-2},{"h":7,"t":3,"v":-3},{"h":7,"t":4,"v":-5},{"h":7,"t":5,"v":-10},{"h":7,"t":6,"v":-16},{"h":7,"t":7,"v":-22},{"h":7,"t":8,"v":-27},{"h":7,"t":9,"v":-32},
{"h":0,"t":0,"v":-4},{"h":0,"t":1,"v":-10},{"h":0,"t":2,"v":-22},{"h":0,"t":3,"v":-38},{"h":0,"t":4,"v":-58},{"h":0,"t":5,"v":-80},{"h":0,"t":6,"v":-100},{"h":0,"t":7,"v":-118},{"h":0,"t":8,"v":-130},{"h":0,"t":9,"v":-140},
{"h":1,"t":0,"v":-8},{"h":1,"t":1,"v":-18},{"h":1,"t":2,"v":-35},{"h":1,"t":3,"v":-58},{"h":1,"t":4,"v":-85},{"h":1,"t":5,"v":-115},{"h":1,"t":6,"v":-145},{"h":1,"t":7,"v":-170},{"h":1,"t":8,"v":-190},{"h":1,"t":9,"v":-205},
{"h":2,"t":0,"v":-3},{"h":2,"t":1,"v":-12},{"h":2,"t":2,"v":-30},{"h":2,"t":3,"v":-55},{"h":2,"t":4,"v":-88},{"h":2,"t":5,"v":-125},{"h":2,"t":6,"v":-160},{"h":2,"t":7,"v":-195},{"h":2,"t":8,"v":-225},{"h":2,"t":9,"v":-250},
{"h":3,"t":0,"v":-6},{"h":3,"t":1,"v":-15},{"h":3,"t":2,"v":-32},{"h":3,"t":3,"v":-60},{"h":3,"t":4,"v":-95},{"h":3,"t":5,"v":-130},{"h":3,"t":6,"v":-170},{"h":3,"t":7,"v":-210},{"h":3,"t":8,"v":-245},{"h":3,"t":9,"v":-275},
{"h":4,"t":0,"v":-10},{"h":4,"t":1,"v":-22},{"h":4,"t":2,"v":-42},{"h":4,"t":3,"v":-70},{"h":4,"t":4,"v":-105},{"h":4,"t":5,"v":-145},{"h":4,"t":6,"v":-185},{"h":4,"t":7,"v":-225},{"h":4,"t":8,"v":-265},{"h":4,"t":9,"v":-300},
{"h":5,"t":0,"v":-2},{"h":5,"t":1,"v":-8},{"h":5,"t":2,"v":-22},{"h":5,"t":3,"v":-45},{"h":5,"t":4,"v":-80},{"h":5,"t":5,"v":-120},{"h":5,"t":6,"v":-170},{"h":5,"t":7,"v":-220},{"h":5,"t":8,"v":-270},{"h":5,"t":9,"v":-320},
{"h":6,"t":0,"v":-5},{"h":6,"t":1,"v":-14},{"h":6,"t":2,"v":-30},{"h":6,"t":3,"v":-55},{"h":6,"t":4,"v":-90},{"h":6,"t":5,"v":-135},{"h":6,"t":6,"v":-190},{"h":6,"t":7,"v":-250},{"h":6,"t":8,"v":-310},{"h":6,"t":9,"v":-350},
{"h":8,"t":0,"v":-12},{"h":8,"t":1,"v":-25},{"h":8,"t":2,"v":-45},{"h":8,"t":3,"v":-75},{"h":8,"t":4,"v":-110},{"h":8,"t":5,"v":-150},{"h":8,"t":6,"v":-195},{"h":8,"t":7,"v":-240},{"h":8,"t":8,"v":-290},{"h":8,"t":9,"v":-330}],
"p12":[{"h":3,"t":0,"v":0},{"h":3,"t":1,"v":-1},{"h":3,"t":2,"v":-2},{"h":3,"t":3,"v":-3},{"h":3,"t":4,"v":-5},{"h":3,"t":5,"v":-8},{"h":3,"t":6,"v":-12},{"h":3,"t":7,"v":-20},{"h":3,"t":8,"v":-30},{"h":3,"t":9,"v":-42},
{"h":0,"t":0,"v":-5},{"h":0,"t":1,"v":-12},{"h":0,"t":2,"v":-25},{"h":0,"t":3,"v":-40},{"h":0,"t":4,"v":-55},{"h":0,"t":5,"v":-70},{"h":0,"t":6,"v":-85},{"h":0,"t":7,"v":-105},{"h":0,"t":8,"v":-125},{"h":0,"t":9,"v":-145},
{"h":1,"t":0,"v":-10},{"h":1,"t":1,"v":-25},{"h":1,"t":2,"v":-75},{"h":1,"t":3,"v":-150},{"h":1,"t":4,"v":-155},{"h":1,"t":5,"v":-165},{"h":1,"t":6,"v":-190},{"h":1,"t":7,"v":-230},{"h":1,"t":8,"v":-280},{"h":1,"t":9,"v":-330},
{"h":2,"t":0,"v":-8},{"h":2,"t":1,"v":-20},{"h":2,"t":2,"v":-40},{"h":2,"t":3,"v":-65},{"h":2,"t":4,"v":-90},{"h":2,"t":5,"v":-115},{"h":2,"t":6,"v":-140},{"h":2,"t":7,"v":-165},{"h":2,"t":8,"v":-190},{"h":2,"t":9,"v":-210},
{"h":4,"t":0,"v":-3},{"h":4,"t":1,"v":-12},{"h":4,"t":2,"v":-30},{"h":4,"t":3,"v":-55},{"h":4,"t":4,"v":-80},{"h":4,"t":5,"v":-105},{"h":4,"t":6,"v":-130},{"h":4,"t":7,"v":-160},{"h":4,"t":8,"v":-190},{"h":4,"t":9,"v":-220},
{"h":5,"t":0,"v":-15},{"h":5,"t":1,"v":-30},{"h":5,"t":2,"v":-50},{"h":5,"t":3,"v":-75},{"h":5,"t":4,"v":-100},{"h":5,"t":5,"v":-130},{"h":5,"t":6,"v":-160},{"h":5,"t":7,"v":-195},{"h":5,"t":8,"v":-230},{"h":5,"t":9,"v":-265},
{"h":6,"t":0,"v":-6},{"h":6,"t":1,"v":-18},{"h":6,"t":2,"v":-40},{"h":6,"t":3,"v":-70},{"h":6,"t":4,"v":-100},{"h":6,"t":5,"v":-135},{"h":6,"t":6,"v":-175},{"h":6,"t":7,"v":-215},{"h":6,"t":8,"v":-255},{"h":6,"t":9,"v":-290},
{"h":7,"t":0,"v":-25},{"h":7,"t":1,"v":-30},{"h":7,"t":2,"v":-60},{"h":7,"t":3,"v":-90},{"h":7,"t":4,"v":-120},{"h":7,"t":5,"v":-150},{"h":7,"t":6,"v":-200},{"h":7,"t":7,"v":-270},{"h":7,"t":8,"v":-330},{"h":7,"t":9,"v":-390},
{"h":8,"t":0,"v":-2},{"h":8,"t":1,"v":-10},{"h":8,"t":2,"v":-28},{"h":8,"t":3,"v":-55},{"h":8,"t":4,"v":-90},{"h":8,"t":5,"v":-130},{"h":8,"t":6,"v":-180},{"h":8,"t":7,"v":-250},{"h":8,"t":8,"v":-340},{"h":8,"t":9,"v":-440}],
"p13":[{"h":11,"t":0,"v":0},{"h":11,"t":1,"v":-1},{"h":11,"t":2,"v":-2},{"h":11,"t":3,"v":-8},{"h":11,"t":4,"v":-13},{"h":11,"t":5,"v":-18},{"h":11,"t":6,"v":-24},{"h":11,"t":7,"v":-30},{"h":11,"t":8,"v":-37},{"h":11,"t":9,"v":-45},
{"h":0,"t":0,"v":-5},{"h":0,"t":1,"v":-20},{"h":0,"t":2,"v":-40},{"h":0,"t":3,"v":-65},{"h":0,"t":4,"v":-90},{"h":0,"t":5,"v":-115},{"h":0,"t":6,"v":-140},{"h":0,"t":7,"v":-165},{"h":0,"t":8,"v":-185},{"h":0,"t":9,"v":-200},
{"h":1,"t":0,"v":-8},{"h":1,"t":1,"v":-25},{"h":1,"t":2,"v":-45},{"h":1,"t":3,"v":-70},{"h":1,"t":4,"v":-100},{"h":1,"t":5,"v":-130},{"h":1,"t":6,"v":-160},{"h":1,"t":7,"v":-190},{"h":1,"t":8,"v":-215},{"h":1,"t":9,"v":-235},
{"h":2,"t":0,"v":-3},{"h":2,"t":1,"v":-15},{"h":2,"t":2,"v":-35},{"h":2,"t":3,"v":-60},{"h":2,"t":4,"v":-95},{"h":2,"t":5,"v":-130},{"h":2,"t":6,"v":-165},{"h":2,"t":7,"v":-195},{"h":2,"t":8,"v":-225},{"h":2,"t":9,"v":-255},
{"h":3,"t":0,"v":-10},{"h":3,"t":1,"v":-30},{"h":3,"t":2,"v":-50},{"h":3,"t":3,"v":-80},{"h":3,"t":4,"v":-110},{"h":3,"t":5,"v":-145},{"h":3,"t":6,"v":-185},{"h":3,"t":7,"v":-220},{"h":3,"t":8,"v":-255},{"h":3,"t":9,"v":-285},
{"h":4,"t":0,"v":-6},{"h":4,"t":1,"v":-18},{"h":4,"t":2,"v":-40},{"h":4,"t":3,"v":-70},{"h":4,"t":4,"v":-105},{"h":4,"t":5,"v":-145},{"h":4,"t":6,"v":-185},{"h":4,"t":7,"v":-225},{"h":4,"t":8,"v":-265},{"h":4,"t":9,"v":-310},
{"h":5,"t":0,"v":-4},{"h":5,"t":1,"v":-14},{"h":5,"t":2,"v":-35},{"h":5,"t":3,"v":-65},{"h":5,"t":4,"v":-100},{"h":5,"t":5,"v":-140},{"h":5,"t":6,"v":-190},{"h":5,"t":7,"v":-240},{"h":5,"t":8,"v":-290},{"h":5,"t":9,"v":-340},
{"h":6,"t":0,"v":-12},{"h":6,"t":1,"v":-28},{"h":6,"t":2,"v":-55},{"h":6,"t":3,"v":-85},{"h":6,"t":4,"v":-120},{"h":6,"t":5,"v":-160},{"h":6,"t":6,"v":-200},{"h":6,"t":7,"v":-250},{"h":6,"t":8,"v":-320},{"h":6,"t":9,"v":-400},
{"h":7,"t":0,"v":-2},{"h":7,"t":1,"v":-10},{"h":7,"t":2,"v":-30},{"h":7,"t":3,"v":-60},{"h":7,"t":4,"v":-100},{"h":7,"t":5,"v":-150},{"h":7,"t":6,"v":-210},{"h":7,"t":7,"v":-290},{"h":7,"t":8,"v":-370},{"h":7,"t":9,"v":-440}],
"p14":[{"h":0,"t":0,"v":0},{"h":0,"t":1,"v":-1},{"h":0,"t":2,"v":-3},{"h":0,"t":3,"v":-8},{"h":0,"t":4,"v":-14},{"h":0,"t":5,"v":-20},{"h":0,"t":6,"v":-27},{"h":0,"t":7,"v":-35},{"h":0,"t":8,"v":-48},{"h":0,"t":9,"v":-62},
{"h":1,"t":0,"v":-5},{"h":1,"t":1,"v":-15},{"h":1,"t":2,"v":-30},{"h":1,"t":3,"v":-50},{"h":1,"t":4,"v":-70},{"h":1,"t":5,"v":-95},{"h":1,"t":6,"v":-115},{"h":1,"t":7,"v":-140},{"h":1,"t":8,"v":-155},{"h":1,"t":9,"v":-165},
{"h":2,"t":0,"v":-10},{"h":2,"t":1,"v":-25},{"h":2,"t":2,"v":-45},{"h":2,"t":3,"v":-70},{"h":2,"t":4,"v":-95},{"h":2,"t":5,"v":-120},{"h":2,"t":6,"v":-145},{"h":2,"t":7,"v":-165},{"h":2,"t":8,"v":-180},{"h":2,"t":9,"v":-190},
{"h":3,"t":0,"v":-3},{"h":3,"t":1,"v":-12},{"h":3,"t":2,"v":-30},{"h":3,"t":3,"v":-55},{"h":3,"t":4,"v":-85},{"h":3,"t":5,"v":-115},{"h":3,"t":6,"v":-145},{"h":3,"t":7,"v":-175},{"h":3,"t":8,"v":-200},{"h":3,"t":9,"v":-215},
{"h":4,"t":0,"v":-8},{"h":4,"t":1,"v":-20},{"h":4,"t":2,"v":-60},{"h":4,"t":3,"v":-140},{"h":4,"t":4,"v":-165},{"h":4,"t":5,"v":-190},{"h":4,"t":6,"v":-220},{"h":4,"t":7,"v":-260},{"h":4,"t":8,"v":-300},{"h":4,"t":9,"v":-340},
{"h":5,"t":0,"v":-6},{"h":5,"t":1,"v":-18},{"h":5,"t":2,"v":-40},{"h":5,"t":3,"v":-65},{"h":5,"t":4,"v":-95},{"h":5,"t":5,"v":-130},{"h":5,"t":6,"v":-170},{"h":5,"t":7,"v":-210},{"h":5,"t":8,"v":-240},{"h":5,"t":9,"v":-260},
{"h":6,"t":0,"v":-15},{"h":6,"t":1,"v":-30},{"h":6,"t":2,"v":-50},{"h":6,"t":3,"v":-75},{"h":6,"t":4,"v":-105},{"h":6,"t":5,"v":-140},{"h":6,"t":6,"v":-180},{"h":6,"t":7,"v":-225},{"h":6,"t":8,"v":-270},{"h":6,"t":9,"v":-310},
{"h":7,"t":0,"v":-4},{"h":7,"t":1,"v":-14},{"h":7,"t":2,"v":-35},{"h":7,"t":3,"v":-65},{"h":7,"t":4,"v":-100},{"h":7,"t":5,"v":-140},{"h":7,"t":6,"v":-190},{"h":7,"t":7,"v":-250},{"h":7,"t":8,"v":-320},{"h":7,"t":9,"v":-380},
{"h":8,"t":0,"v":-2},{"h":8,"t":1,"v":-10},{"h":8,"t":2,"v":-28},{"h":8,"t":3,"v":-55},{"h":8,"t":4,"v":-90},{"h":8,"t":5,"v":-135},{"h":8,"t":6,"v":-190},{"h":8,"t":7,"v":-260},{"h":8,"t":8,"v":-350},{"h":8,"t":9,"v":-440}],
"p15":[{"h":3,"t":0,"v":0},{"h":3,"t":1,"v":-1},{"h":3,"t":2,"v":-2},{"h":3,"t":3,"v":-4},{"h":3,"t":4,"v":-8},{"h":3,"t":5,"v":-12},{"h":3,"t":6,"v":-17},{"h":3,"t":7,"v":-22},{"h":3,"t":8,"v":-30},{"h":3,"t":9,"v":-38},
{"h":0,"t":0,"v":-4},{"h":0,"t":1,"v":-12},{"h":0,"t":2,"v":-25},{"h":0,"t":3,"v":-42},{"h":0,"t":4,"v":-62},{"h":0,"t":5,"v":-85},{"h":0,"t":6,"v":-105},{"h":0,"t":7,"v":-125},{"h":0,"t":8,"v":-140},{"h":0,"t":9,"v":-150},
{"h":1,"t":0,"v":-8},{"h":1,"t":1,"v":-20},{"h":1,"t":2,"v":-38},{"h":1,"t":3,"v":-60},{"h":1,"t":4,"v":-85},{"h":1,"t":5,"v":-115},{"h":1,"t":6,"v":-145},{"h":1,"t":7,"v":-175},{"h":1,"t":8,"v":-200},{"h":1,"t":9,"v":-220},
{"h":2,"t":0,"v":-3},{"h":2,"t":1,"v":-10},{"h":2,"t":2,"v":-25},{"h":2,"t":3,"v":-50},{"h":2,"t":4,"v":-80},{"h":2,"t":5,"v":-115},{"h":2,"t":6,"v":-150},{"h":2,"t":7,"v":-185},{"h":2,"t":8,"v":-220},{"h":2,"t":9,"v":-250},
{"h":4,"t":0,"v":-6},{"h":4,"t":1,"v":-15},{"h":4,"t":2,"v":-32},{"h":4,"t":3,"v":-55},{"h":4,"t":4,"v":-85},{"h":4,"t":5,"v":-120},{"h":4,"t":6,"v":-160},{"h":4,"t":7,"v":-200},{"h":4,"t":8,"v":-240},{"h":4,"t":9,"v":-280},
{"h":5,"t":0,"v":-10},{"h":5,"t":1,"v":-22},{"h":5,"t":2,"v":-42},{"h":5,"t":3,"v":-70},{"h":5,"t":4,"v":-105},{"h":5,"t":5,"v":-145},{"h":5,"t":6,"v":-190},{"h":5,"t":7,"v":-235},{"h":5,"t":8,"v":-280},{"h":5,"t":9,"v":-320},
{"h":6,"t":0,"v":-2},{"h":6,"t":1,"v":-8},{"h":6,"t":2,"v":-22},{"h":6,"t":3,"v":-45},{"h":6,"t":4,"v":-80},{"h":6,"t":5,"v":-125},{"h":6,"t":6,"v":-180},{"h":6,"t":7,"v":-240},{"h":6,"t":8,"v":-300},{"h":6,"t":9,"v":-360},
{"h":7,"t":0,"v":-5},{"h":7,"t":1,"v":-14},{"h":7,"t":2,"v":-30},{"h":7,"t":3,"v":-55},{"h":7,"t":4,"v":-90},{"h":7,"t":5,"v":-135},{"h":7,"t":6,"v":-190},{"h":7,"t":7,"v":-260},{"h":7,"t":8,"v":-340},{"h":7,"t":9,"v":-420},
{"h":8,"t":0,"v":-12},{"h":8,"t":1,"v":-25},{"h":8,"t":2,"v":-45},{"h":8,"t":3,"v":-72},{"h":8,"t":4,"v":-105},{"h":8,"t":5,"v":-145},{"h":8,"t":6,"v":-190},{"h":8,"t":7,"v":-240},{"h":8,"t":8,"v":-290},{"h":8,"t":9,"v":-340}],
"zero":[{"h":3,"t":0,"v":0},{"h":3,"t":1,"v":-5},{"h":3,"t":2,"v":-11},{"h":3,"t":3,"v":-17},{"h":3,"t":4,"v":-24},{"h":3,"t":5,"v":-31},{"h":3,"t":6,"v":-38},{"h":3,"t":7,"v":-46},{"h":3,"t":8,"v":-54},{"h":3,"t":9,"v":-63},{"h":3,"t":10,"v":-72},{"h":3,"t":11,"v":-82},{"h":3,"t":12,"v":-92},{"h":3,"t":13,"v":-102},{"h":3,"t":14,"v":-113},{"h":3,"t":15,"v":-125},{"h":3,"t":16,"v":-136},{"h":3,"t":17,"v":-149},{"h":3,"t":18,"v":-161},{"h":3,"t":19,"v":-174},{"h":3,"t":20,"v":-188},{"h":3,"t":21,"v":-202},{"h":3,"t":22,"v":-216},{"h":3,"t":23,"v":-231},{"h":3,"t":24,"v":-247},{"h":3,"t":25,"v":-263},{"h":3,"t":26,"v":-279},{"h":3,"t":27,"v":-295},{"h":3,"t":28,"v":-312},{"h":3,"t":29,"v":-330},
{"h":7,"t":0,"v":0},{"h":7,"t":1,"v":-6},{"h":7,"t":2,"v":-12},{"h":7,"t":3,"v":-19},{"h":7,"t":4,"v":-26},{"h":7,"t":5,"v":-34},{"h":7,"t":6,"v":-42},{"h":7,"t":7,"v":-51},{"h":7,"t":8,"v":-60},{"h":7,"t":9,"v":-70},{"h":7,"t":10,"v":-80},{"h":7,"t":11,"v":-91},{"h":7,"t":12,"v":-102},{"h":7,"t":13,"v":-114},{"h":7,"t":14,"v":-126},{"h":7,"t":15,"v":-139},{"h":7,"t":16,"v":-152},{"h":7,"t":17,"v":-166},{"h":7,"t":18,"v":-180},{"h":7,"t":19,"v":-195},{"h":7,"t":20,"v":-210},{"h":7,"t":21,"v":-226},{"h":7,"t":22,"v":-242},{"h":7,"t":23,"v":-259},{"h":7,"t":24,"v":-276},{"h":7,"t":25,"v":-294},{"h":7,"t":26,"v":-312},{"h":7,"t":27,"v":-331},{"h":7,"t":28,"v":-350},{"h":7,"t":29,"v":-370},
{"h":1,"t":0,"v":0},{"h":1,"t":1,"v":-21},{"h":1,"t":2,"v":-43},{"h":1,"t":3,"v":-67},{"h":1,"t":4,"v":-93},{"h":1,"t":5,"v":-120},{"h":1,"t":6,"v":-149},{"h":1,"t":7,"v":-179},{"h":1,"t":8,"v":-211},{"h":1,"t":9,"v":-245},{"h":1,"t":10,"v":-280},{"h":1,"t":11,"v":-317},{"h":1,"t":12,"v":-355},{"h":1,"t":13,"v":-395},{"h":1,"t":14,"v":-437},{"h":1,"t":15,"v":-480},{"h":1,"t":16,"v":-525},{"h":1,"t":17,"v":-571},{"h":1,"t":18,"v":-619},{"h":1,"t":19,"v":-669},{"h":1,"t":20,"v":-720},{"h":1,"t":21,"v":-773},{"h":1,"t":22,"v":-827},{"h":1,"t":23,"v":-883},{"h":1,"t":24,"v":-941},{"h":1,"t":25,"v":-1000},{"h":1,"t":26,"v":-1061},{"h":1,"t":27,"v":-1123},{"h":1,"t":28,"v":-1187},{"h":1,"t":29,"v":-1253},
{"h":9,"t":0,"v":0},{"h":9,"t":1,"v":-23},{"h":9,"t":2,"v":-47},{"h":9,"t":3,"v":-72},{"h":9,"t":4,"v":-100},{"h":9,"t":5,"v":-128},{"h":9,"t":6,"v":-158},{"h":9,"t":7,"v":-189},{"h":9,"t":8,"v":-222},{"h":9,"t":9,"v":-256},{"h":9,"t":10,"v":-292},{"h":9,"t":11,"v":-329},{"h":9,"t":12,"v":-368},{"h":9,"t":13,"v":-408},{"h":9,"t":14,"v":-449},{"h":9,"t":15,"v":-492},{"h":9,"t":16,"v":-536},{"h":9,"t":17,"v":-582},{"h":9,"t":18,"v":-629},{"h":9,"t":19,"v":-678},{"h":9,"t":20,"v":-728},{"h":9,"t":21,"v":-780},{"h":9,"t":22,"v":-832},{"h":9,"t":23,"v":-887},{"h":9,"t":24,"v":-943},{"h":9,"t":25,"v":-1000},{"h":9,"t":26,"v":-1059},{"h":9,"t":27,"v":-1119},{"h":9,"t":28,"v":-1180},{"h":9,"t":29,"v":-1244},
{"h":5,"t":0,"v":0},{"h":5,"t":1,"v":-5},{"h":5,"t":2,"v":-19},{"h":5,"t":3,"v":-43},{"h":5,"t":4,"v":-77},{"h":5,"t":5,"v":-120},{"h":5,"t":6,"v":-173},{"h":5,"t":7,"v":-235},{"h":5,"t":8,"v":-307},{"h":5,"t":9,"v":-389},{"h":5,"t":10,"v":-480},{"h":5,"t":11,"v":-581},{"h":5,"t":12,"v":-691},{"h":5,"t":13,"v":-811},{"h":5,"t":14,"v":-941},{"h":5,"t":15,"v":-1080},{"h":5,"t":16,"v":-1229},{"h":5,"t":17,"v":-1387},{"h":5,"t":18,"v":-1555},{"h":5,"t":19,"v":-1733},{"h":5,"t":20,"v":-1920},{"h":5,"t":21,"v":-2117},{"h":5,"t":22,"v":-2323},{"h":5,"t":23,"v":-2539},{"h":5,"t":24,"v":-2765},{"h":5,"t":25,"v":-3000},{"h":5,"t":26,"v":-3245},{"h":5,"t":27,"v":-3499},{"h":5,"t":28,"v":-3763},{"h":5,"t":29,"v":-4037},
{"h":12,"t":0,"v":0},{"h":12,"t":1,"v":-12},{"h":12,"t":2,"v":-45},{"h":12,"t":3,"v":-100},{"h":12,"t":4,"v":-180},{"h":12,"t":5,"v":-280},{"h":12,"t":6,"v":-420},{"h":12,"t":7,"v":-570},{"h":12,"t":8,"v":-740},{"h":12,"t":9,"v":-930},{"h":12,"t":10,"v":-1140},{"h":12,"t":11,"v":-1360},{"h":12,"t":12,"v":-1580},{"h":12,"t":13,"v":-1820},{"h":12,"t":14,"v":-2090},{"h":12,"t":15,"v":-2400},{"h":12,"t":16,"v":-2730},{"h":12,"t":17,"v":-3070},{"h":12,"t":18,"v":-3420},{"h":12,"t":19,"v":-3790},{"h":12,"t":20,"v":-4180},{"h":12,"t":21,"v":-4590},{"h":12,"t":22,"v":-5010},{"h":12,"t":23,"v":-5440},{"h":12,"t":24,"v":-5960},{"h":12,"t":25,"v":-6520},{"h":12,"t":26,"v":-7070},{"h":12,"t":27,"v":-7620},{"h":12,"t":28,"v":-8160},{"h":12,"t":29,"v":-8700}]
},
"spacing":14,
"resolve":{"scale":{"color":"independent","x":"independent","y":"independent"},"legend":{"color":"independent"}},
"hconcat":[
{"title":{"text":"(a) 56-bit plaintext","orient":"bottom","anchor":"middle","font":"DejaVu Serif","fontSize":24,"color":"#000000","offset":27},
 "resolve":{"scale":{"color":"independent","x":"independent","y":"independent"},"legend":{"color":"independent"}},
 "vconcat":[
 {"title":{"text":"cumulative Log-Likelihood scores for all key nibbles","anchor":"middle","fontSize":9.1,"color":"#222222","offset":46,"dx":12},
  "columns":4,"spacing":{"row":19.7,"column":24},"bounds":"flush",
  "resolve":{"scale":{"color":"independent","x":"independent","y":"independent"},"legend":{"color":"independent"}},
  "concat":[
  {"width":109,"height":97,"title":"target Sbox: 0","data":{"name":"p0"},
   "encoding":{"x":{"field":"t","type":"quantitative","scale":{"domain":[0,9],"padding":4.95},"axis":{"values":[0,2.5,5,7.5],"labels":false,"title":null}},"y":{"field":"v","type":"quantitative","scale":{"zero":false,"nice":false,"padding":4.4},"axis":{"values":[0,-100,-200,-300,-400],"format":"d","title":"log likelihood score"}}},
   "layer":[{"transform":[{"filter":"datum.h != 3"}],"mark":{"type":"line","color":"#c6c6c6","strokeWidth":1.1},"encoding":{"detail":{"field":"h"}}},
            {"transform":[{"filter":"datum.h == 3"}],"mark":{"type":"line","strokeWidth":1.4},"encoding":{"color":{"datum":"key hypothesis 3","scale":{"range":["#222222"]},"legend":{"title":null}}}}]},
  {"width":109,"height":97,"title":"target Sbox: 1","data":{"name":"p1"},
   "encoding":{"x":{"field":"t","type":"quantitative","scale":{"domain":[0,9],"padding":4.95},"axis":{"values":[0,2.5,5,7.5],"labels":false,"title":null}},"y":{"field":"v","type":"quantitative","scale":{"zero":false,"nice":false,"padding":4.4},"axis":{"values":[0,-100,-200,-300,-400],"labels":false,"title":null}}},
   "layer":[{"transform":[{"filter":"datum.h != 11"}],"mark":{"type":"line","color":"#c6c6c6","strokeWidth":1.1},"encoding":{"detail":{"field":"h"}}},
            {"transform":[{"filter":"datum.h == 11"}],"mark":{"type":"line","strokeWidth":1.4},"encoding":{"color":{"datum":"key hypothesis 11","scale":{"range":["#222222"]},"legend":{"title":null}}}}]},
  {"width":109,"height":97,"title":"target Sbox: 2","data":{"name":"p2"},
   "encoding":{"x":{"field":"t","type":"quantitative","scale":{"domain":[0,9],"padding":4.95},"axis":{"values":[0,2.5,5,7.5],"labels":false,"title":null}},"y":{"field":"v","type":"quantitative","scale":{"zero":false,"nice":false,"padding":4.4},"axis":{"values":[0,-100,-200,-300,-400],"labels":false,"title":null}}},
   "layer":[{"transform":[{"filter":"datum.h != 0"}],"mark":{"type":"line","color":"#c6c6c6","strokeWidth":1.1},"encoding":{"detail":{"field":"h"}}},
            {"transform":[{"filter":"datum.h == 0"}],"mark":{"type":"line","strokeWidth":1.4},"encoding":{"color":{"datum":"key hypothesis 0","scale":{"range":["#222222"]},"legend":{"title":null}}}}]},
  {"width":109,"height":97,"title":"target Sbox: 3","data":{"name":"p3"},
   "encoding":{"x":{"field":"t","type":"quantitative","scale":{"domain":[0,9],"padding":4.95},"axis":{"values":[0,2.5,5,7.5],"labels":false,"title":null}},"y":{"field":"v","type":"quantitative","scale":{"zero":false,"nice":false,"padding":4.4},"axis":{"values":[0,-100,-200,-300,-400],"labels":false,"title":null}}},
   "layer":[{"transform":[{"filter":"datum.h != 3"}],"mark":{"type":"line","color":"#c6c6c6","strokeWidth":1.1},"encoding":{"detail":{"field":"h"}}},
            {"transform":[{"filter":"datum.h == 3"}],"mark":{"type":"line","strokeWidth":1.4},"encoding":{"color":{"datum":"key hypothesis 3","scale":{"range":["#222222"]},"legend":{"title":null}}}}]},
  {"width":109,"height":97,"title":"target Sbox: 4","data":{"name":"p4"},
   "encoding":{"x":{"field":"t","type":"quantitative","scale":{"domain":[0,9],"padding":4.95},"axis":{"values":[0,2.5,5,7.5],"labels":false,"title":null}},"y":{"field":"v","type":"quantitative","scale":{"zero":false,"nice":false,"padding":4.4},"axis":{"values":[0,-200,-400,-600,-800,-1000],"format":"d","title":"log likelihood score"}}},
   "layer":[{"mark":{"type":"line","color":"#c6c6c6","strokeWidth":1.1},"encoding":{"detail":{"field":"h"}}}]},
  {"width":109,"height":97,"title":"target Sbox: 5","data":{"name":"p5"},
   "encoding":{"x":{"field":"t","type":"quantitative","scale":{"domain":[0,9],"padding":4.95},"axis":{"values":[0,2.5,5,7.5],"labels":false,"title":null}},"y":{"field":"v","type":"quantitative","scale":{"zero":false,"nice":false,"padding":4.4},"axis":{"values":[0,-200,-400,-600,-800,-1000],"labels":false,"title":null}}},
   "layer":[{"mark":{"type":"line","color":"#c6c6c6","strokeWidth":1.1},"encoding":{"detail":{"field":"h"}}}]},
  {"width":109,"height":97,"title":"target Sbox: 6","data":{"name":"p6"},
   "encoding":{"x":{"field":"t","type":"quantitative","scale":{"domain":[0,9],"padding":4.95},"axis":{"values":[0,2.5,5,7.5],"labels":false,"title":null}},"y":{"field":"v","type":"quantitative","scale":{"zero":false,"nice":false,"padding":4.4},"axis":{"values":[0,-200,-400,-600,-800],"labels":false,"title":null}}},
   "layer":[{"transform":[{"filter":"datum.h != 0"}],"mark":{"type":"line","color":"#c6c6c6","strokeWidth":1.1},"encoding":{"detail":{"field":"h"}}},
            {"transform":[{"filter":"datum.h == 0"}],"mark":{"type":"line","strokeWidth":1.4},"encoding":{"color":{"datum":"key hypothesis 0","scale":{"range":["#222222"]},"legend":{"title":null}}}}]},
  {"width":109,"height":97,"title":"target Sbox: 7","data":{"name":"p7"},
   "encoding":{"x":{"field":"t","type":"quantitative","scale":{"domain":[0,9],"padding":4.95},"axis":{"values":[0,2.5,5,7.5],"labels":false,"title":null}},"y":{"field":"v","type":"quantitative","scale":{"zero":false,"nice":false,"padding":4.4},"axis":{"values":[0,-200,-400,-600,-800],"labels":false,"title":null}}},
   "layer":[{"transform":[{"filter":"datum.h != 3"}],"mark":{"type":"line","color":"#c6c6c6","strokeWidth":1.1},"encoding":{"detail":{"field":"h"}}},
            {"transform":[{"filter":"datum.h == 3"}],"mark":{"type":"line","strokeWidth":1.4},"encoding":{"color":{"datum":"key hypothesis 3","scale":{"range":["#222222"]},"legend":{"title":null}}}}]},
  {"width":109,"height":97,"title":"target Sbox: 8","data":{"name":"p8"},
   "encoding":{"x":{"field":"t","type":"quantitative","scale":{"domain":[0,9],"padding":4.95},"axis":{"values":[0,2.5,5,7.5],"labels":false,"title":null}},"y":{"field":"v","type":"quantitative","scale":{"zero":false,"nice":false,"padding":4.4},"axis":{"values":[0,-100,-200,-300],"format":"d","title":"log likelihood score"}}},
   "layer":[{"transform":[{"filter":"datum.h != 12"}],"mark":{"type":"line","color":"#c6c6c6","strokeWidth":1.1},"encoding":{"detail":{"field":"h"}}},
            {"transform":[{"filter":"datum.h == 12"}],"mark":{"type":"line","strokeWidth":1.4},"encoding":{"color":{"datum":"key hypothesis 12","scale":{"range":["#222222"]},"legend":{"title":null}}}}]},
  {"width":109,"height":97,"title":"target Sbox: 9","data":{"name":"p9"},
   "encoding":{"x":{"field":"t","type":"quantitative","scale":{"domain":[0,9],"padding":4.95},"axis":{"values":[0,2.5,5,7.5],"labels":false,"title":null}},"y":{"field":"v","type":"quantitative","scale":{"zero":false,"nice":false,"padding":4.4},"axis":{"values":[0,-100,-200,-300],"labels":false,"title":null}}},
   "layer":[{"transform":[{"filter":"datum.h != 7"}],"mark":{"type":"line","color":"#c6c6c6","strokeWidth":1.1},"encoding":{"detail":{"field":"h"}}},
            {"transform":[{"filter":"datum.h == 7"}],"mark":{"type":"line","strokeWidth":1.4},"encoding":{"color":{"datum":"key hypothesis 7","scale":{"range":["#222222"]},"legend":{"title":null}}}}]},
  {"width":109,"height":97,"title":"target Sbox: 10","data":{"name":"p10"},
   "encoding":{"x":{"field":"t","type":"quantitative","scale":{"domain":[0,9],"padding":4.95},"axis":{"values":[0,2.5,5,7.5],"labels":false,"title":null}},"y":{"field":"v","type":"quantitative","scale":{"zero":false,"nice":false,"padding":4.4},"axis":{"values":[0,-100,-200,-300],"labels":false,"title":null}}},
   "layer":[{"transform":[{"filter":"datum.h != 5"}],"mark":{"type":"line","color":"#c6c6c6","strokeWidth":1.1},"encoding":{"detail":{"field":"h"}}},
            {"transform":[{"filter":"datum.h == 5"}],"mark":{"type":"line","strokeWidth":1.4},"encoding":{"color":{"datum":"key hypothesis 5","scale":{"range":["#222222"]},"legend":{"title":null}}}}]},
  {"width":109,"height":97,"title":"target Sbox: 11","data":{"name":"p11"},
   "encoding":{"x":{"field":"t","type":"quantitative","scale":{"domain":[0,9],"padding":4.95},"axis":{"values":[0,2.5,5,7.5],"labels":false,"title":null}},"y":{"field":"v","type":"quantitative","scale":{"zero":false,"nice":false,"padding":4.4},"axis":{"values":[0,-100,-200,-300],"labels":false,"title":null}}},
   "layer":[{"transform":[{"filter":"datum.h != 7"}],"mark":{"type":"line","color":"#c6c6c6","strokeWidth":1.1},"encoding":{"detail":{"field":"h"}}},
            {"transform":[{"filter":"datum.h == 7"}],"mark":{"type":"line","strokeWidth":1.4},"encoding":{"color":{"datum":"key hypothesis 7","scale":{"range":["#222222"]},"legend":{"title":null}}}}]},
  {"width":109,"height":97,"title":"target Sbox: 12","data":{"name":"p12"},
   "encoding":{"x":{"field":"t","type":"quantitative","scale":{"domain":[0,9],"padding":4.95},"axis":{"values":[0,2.5,5,7.5],"format":".1f","title":"traces"}},"y":{"field":"v","type":"quantitative","scale":{"zero":false,"nice":false,"padding":4.4},"axis":{"values":[0,-100,-200,-300,-400],"format":"d","title":"log likelihood score"}}},
   "layer":[{"transform":[{"filter":"datum.h != 3"}],"mark":{"type":"line","color":"#c6c6c6","strokeWidth":1.1},"encoding":{"detail":{"field":"h"}}},
            {"transform":[{"filter":"datum.h == 3"}],"mark":{"type":"line","strokeWidth":1.4},"encoding":{"color":{"datum":"key hypothesis 3","scale":{"range":["#222222"]},"legend":{"title":null}}}}]},
  {"width":109,"height":97,"title":"target Sbox: 13","data":{"name":"p13"},
   "encoding":{"x":{"field":"t","type":"quantitative","scale":{"domain":[0,9],"padding":4.95},"axis":{"values":[0,2.5,5,7.5],"format":".1f","title":"traces"}},"y":{"field":"v","type":"quantitative","scale":{"zero":false,"nice":false,"padding":4.4},"axis":{"values":[0,-100,-200,-300,-400],"labels":false,"title":null}}},
   "layer":[{"transform":[{"filter":"datum.h != 11"}],"mark":{"type":"line","color":"#c6c6c6","strokeWidth":1.1},"encoding":{"detail":{"field":"h"}}},
            {"transform":[{"filter":"datum.h == 11"}],"mark":{"type":"line","strokeWidth":1.4},"encoding":{"color":{"datum":"key hypothesis 11","scale":{"range":["#222222"]},"legend":{"title":null}}}}]},
  {"width":109,"height":97,"title":"target Sbox: 14","data":{"name":"p14"},
   "encoding":{"x":{"field":"t","type":"quantitative","scale":{"domain":[0,9],"padding":4.95},"axis":{"values":[0,2.5,5,7.5],"format":".1f","title":"traces"}},"y":{"field":"v","type":"quantitative","scale":{"zero":false,"nice":false,"padding":4.4},"axis":{"values":[0,-100,-200,-300,-400],"labels":false,"title":null}}},
   "layer":[{"transform":[{"filter":"datum.h != 0"}],"mark":{"type":"line","color":"#c6c6c6","strokeWidth":1.1},"encoding":{"detail":{"field":"h"}}},
            {"transform":[{"filter":"datum.h == 0"}],"mark":{"type":"line","strokeWidth":1.4},"encoding":{"color":{"datum":"key hypothesis 0","scale":{"range":["#222222"]},"legend":{"title":null}}}}]},
  {"width":109,"height":97,"title":"target Sbox: 15","data":{"name":"p15"},
   "encoding":{"x":{"field":"t","type":"quantitative","scale":{"domain":[0,9],"padding":4.95},"axis":{"values":[0,2.5,5,7.5],"format":".1f","title":"traces"}},"y":{"field":"v","type":"quantitative","scale":{"zero":false,"nice":false,"padding":4.4},"axis":{"values":[0,-100,-200,-300,-400],"labels":false,"title":null}}},
   "layer":[{"transform":[{"filter":"datum.h != 3"}],"mark":{"type":"line","color":"#c6c6c6","strokeWidth":1.1},"encoding":{"detail":{"field":"h"}}},
            {"transform":[{"filter":"datum.h == 3"}],"mark":{"type":"line","strokeWidth":1.4},"encoding":{"color":{"datum":"key hypothesis 3","scale":{"range":["#222222"]},"legend":{"title":null}}}}]}
  ]}
 ]},
{"title":{"text":"(b) all-zero plaintext.","orient":"bottom","anchor":"middle","font":"DejaVu Serif","fontSize":24,"color":"#000000","offset":27,"dx":27},
 "spacing":18,
 "resolve":{"scale":{"color":"independent","x":"independent","y":"independent"},"legend":{"color":"independent"}},
 "vconcat":[
  {"width":1,"height":128,"data":{"values":[]},"mark":"point","encoding":{},"view":{"stroke":null}},
  {"width":437,"height":282,"data":{"name":"zero"},
   "encoding":{"x":{"field":"t","type":"quantitative","scale":{"domain":[-1.45,30.45],"nice":false,"zero":false},"axis":{"values":[0,5,10,15,20,25,30],"format":"d","title":"Traces","labelFontSize":12,"titleFontSize":12,"tickSize":4,"labelPadding":3.5,"titlePadding":4,"tickColor":"#333333"}},
               "y":{"field":"v","type":"quantitative","scale":{"domain":[-9135,435],"nice":false,"zero":false},"axis":{"values":[0,-2000,-4000,-6000,-8000],"format":"d","title":"cumulative Log-Likelihood score","labelFontSize":12,"titleFontSize":12,"tickSize":4,"labelPadding":5,"titlePadding":9,"tickColor":"#333333"}}},
   "layer":[{"transform":[{"filter":"datum.h == 3"}],"mark":{"type":"line","strokeWidth":1.5},"encoding":{"color":{"datum":"leader: key hypothesis 3","scale":{"range":["#222222"]},"legend":{"title":null,"offset":6.5,"padding":5,"symbolSize":784,"symbolStrokeWidth":2,"labelFontSize":12,"labelOffset":11}}}},
            {"mark":{"type":"line","color":"#c6c6c6","strokeWidth":2},"encoding":{"detail":{"field":"h"}}}]}
 ]}
]
}
